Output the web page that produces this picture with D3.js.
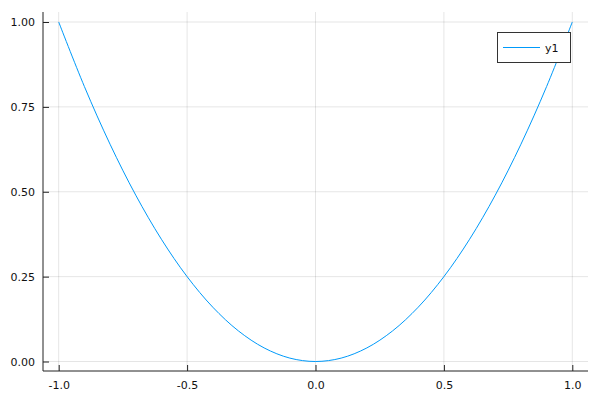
<!DOCTYPE html>
<html><head><meta charset="utf-8">
<script src="https://cdn.jsdelivr.net/npm/d3@7"></script>
<style>body{margin:0;background:#fff}svg{display:block}text{font-family:"DejaVu Sans",sans-serif}</style>
</head><body><svg id="c" width="600" height="400"></svg>
<script>
const xValues = [-1.0,-0.9,-0.8,-0.7,-0.6,-0.5,-0.4,-0.3,-0.2,-0.1,0.0,0.1,0.2,0.3,0.4,0.5,0.6,0.7,0.8,0.9,1.0];
const yValues = [1.0,0.81,0.64,0.49,0.36,0.25,0.16,0.09,0.04,0.01,0.0,0.01,0.04,0.09,0.16,0.25,0.36,0.49,0.64,0.81,1.0];
const xTicks = [-1.0,-0.5,0.0,0.5,1.0];
const xTickLabels = ["-1.0","-0.5","0.0","0.5","1.0"];
const yTicks = [0,0.25,0.5,0.75,1.0];
const yTickLabels = ["0.00","0.25","0.50","0.75","1.00"];
const seriesName = "y1";

const svg = d3.select("#c");
const L=43, R=588, T=12, B=371;
const x = d3.scaleLinear().domain([-1,1]).range([58.7,572.3]);
const y = d3.scaleLinear().domain([0,1]).range([361.5,22]);

const g = svg.append("g");
// grid
g.selectAll(".gx").data(xTicks).enter().append("line")
 .attr("x1",d=>x(d)).attr("x2",d=>x(d)).attr("y1",T).attr("y2",B)
 .attr("stroke","#000").attr("stroke-opacity",0.1).attr("stroke-width",1);
g.selectAll(".gy").data(yTicks).enter().append("line")
 .attr("y1",d=>y(d)).attr("y2",d=>y(d)).attr("x1",L).attr("x2",R)
 .attr("stroke","#000").attr("stroke-opacity",0.1).attr("stroke-width",1);

// axes
const xa = svg.append("g").attr("transform",`translate(0,${B})`)
 .call(d3.axisBottom(x).tickValues(xTicks).tickFormat((d,i)=>xTickLabels[i]).tickSizeInner(-6).tickSizeOuter(0).tickPadding(10));
xa.select(".domain").attr("d",`M${L},0H${R}`).attr("stroke","#222");
xa.selectAll(".tick line").attr("stroke","#222");
xa.selectAll("text").attr("font-size",11).attr("fill","#111");

const ya = svg.append("g").attr("transform",`translate(${L},0)`)
 .call(d3.axisLeft(y).tickValues(yTicks).tickFormat((d,i)=>yTickLabels[i]).tickSizeInner(-6).tickSizeOuter(0).tickPadding(8));
ya.select(".domain").attr("d",`M0,${T}V${B}`).attr("stroke","#222");
ya.selectAll(".tick line").attr("stroke","#222");
ya.selectAll("text").attr("font-size",11).attr("fill","#111");

// line
const pts = xValues.map((v,i)=>[v,yValues[i]]);
svg.append("path").datum(pts)
 .attr("d", d3.line().x(d=>x(d[0])).y(d=>y(d[1])).curve(d3.curveCatmullRom.alpha(0.5)))
 .attr("fill","none").attr("stroke","#009AFA").attr("stroke-width",1);

// legend
const lg = svg.append("g");
lg.append("rect").attr("x",497.5).attr("y",32.5).attr("width",73).attr("height",30)
 .attr("fill","#fff").attr("stroke","#333").attr("stroke-width",1);
lg.append("line").attr("x1",503).attr("x2",540).attr("y1",47.5).attr("y2",47.5)
 .attr("stroke","#009AFA").attr("stroke-width",1);
lg.append("text").attr("x",545).attr("y",51.5).attr("font-size",11).attr("fill","#111").text(seriesName);
</script></body></html>
